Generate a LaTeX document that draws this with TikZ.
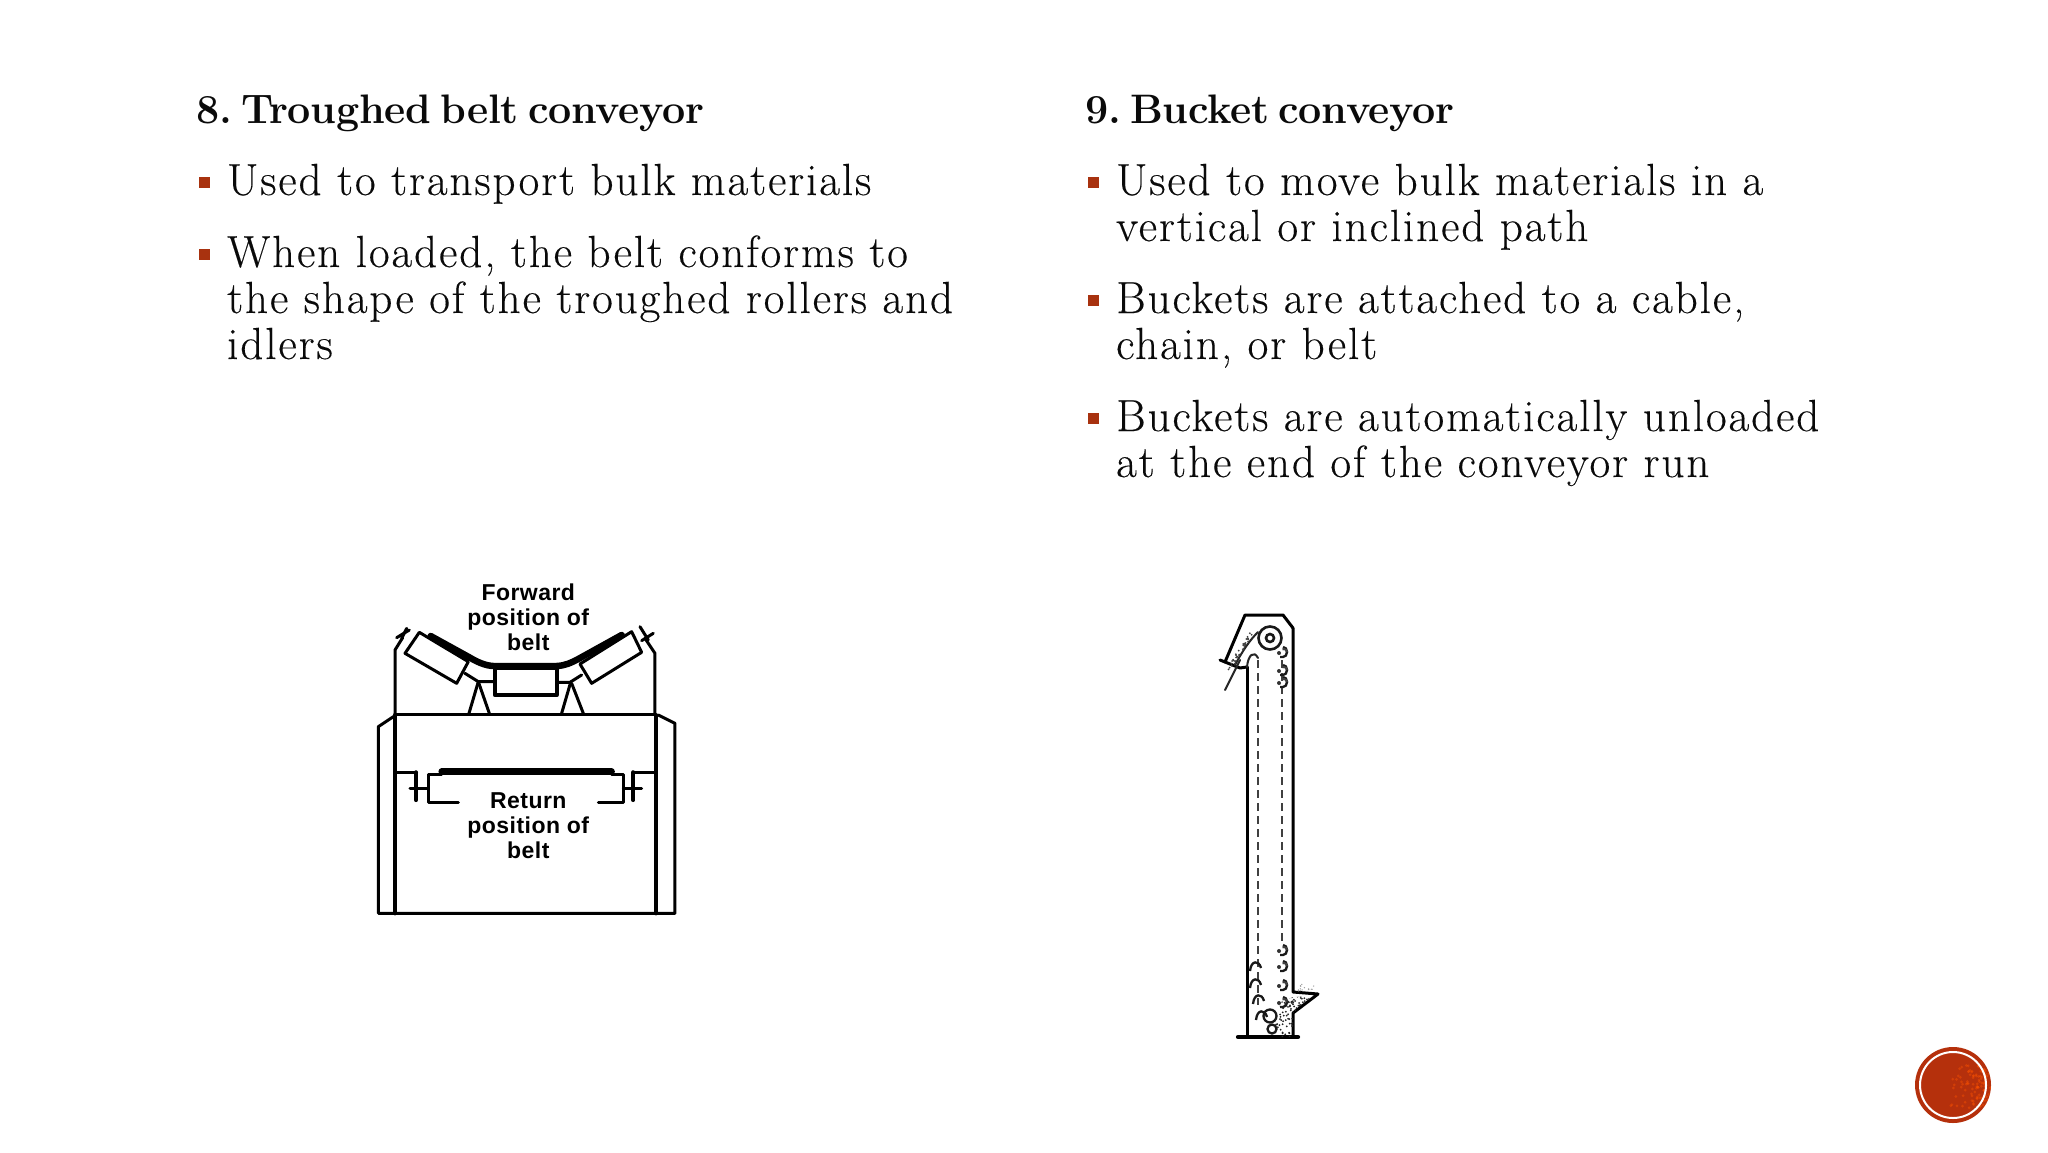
\documentclass[tikz,border=0pt]{standalone}
\usepackage{fontspec}
\newfontfamily\bodyf[LetterSpace=4.3,FakeBold=0.25]{Latin Modern Roman}
\newfontfamily\titlef[LetterSpace=-0.6,WordSpace=0.6]{Latin Modern Roman}
\newfontfamily\labf[LetterSpace=2]{Liberation Sans}
\definecolor{accent}{HTML}{A8320F}
\definecolor{disc}{HTML}{B5300C}
\definecolor{ink}{HTML}{0A0A0A}
\tikzset{
  bodytext/.style={anchor=base west,inner sep=0pt,font=\bodyf\fontsize{45}{46}\selectfont,text=ink},
  titletext/.style={anchor=base west,inner sep=0pt,font=\frenchspacing\titlef\fontsize{41.2}{46}\selectfont\bfseries,text=ink},
  bulletbox/.style={fill=accent,draw=none,minimum width=11pt,minimum height=11pt,inner sep=0pt},
  lab/.style={inner sep=0pt,anchor=base,font=\labf\bfseries\fontsize{23}{25}\selectfont,text=black},
  thin line/.style={line width=3pt,line join=round,line cap=round,draw=black},
  heavy/.style={line width=4.2pt,line join=round,line cap=round,draw=black},
  belt/.style={line width=6.5pt,line join=round,line cap=round,draw=black},
  fine/.style={line width=2pt,draw=black!85,line cap=round},
  dashy/.style={line width=1.5pt,draw=black!75,dash pattern=on 8pt off 5pt},
}
\begin{document}
\begin{tikzpicture}[x=1pt,y=-1pt]
\useasboundingbox (0,0) rectangle (2048,1152);
\fill[white] (0,0) rectangle (2048,1152);

% left column text
\node[titletext] (t8) at (196,123) {8. Troughed belt conveyor};
\node[bulletbox] (b1) at (204,182) {};
\node[bodytext] (l1) at (227,195) {Used to transport bulk materials};
\node[bulletbox] (b2) at (204,254) {};
\node[bodytext] (l2) at (227,267) {When loaded, the belt conforms to};
\node[bodytext] (l3) at (227,313) {the shape of the troughed rollers and};
\node[bodytext] (l4) at (227,359) {idlers};

% right column text
\node[titletext] (t9) at (1085,123) {9. Bucket conveyor};
\node[bulletbox] (b3) at (1093,182) {};
\node[bodytext] (r1) at (1116,195) {Used to move bulk materials in a};
\node[bodytext] (r2) at (1116,241) {vertical or inclined path};
\node[bulletbox] (b4) at (1093,300) {};
\node[bodytext] (r3) at (1116,313) {Buckets are attached to a cable,};
\node[bodytext] (r4) at (1116,359) {chain, or belt};
\node[bulletbox] (b5) at (1093,418) {};
\node[bodytext] (r5) at (1116,431) {Buckets are automatically unloaded};
\node[bodytext] (r6) at (1116,477) {at the end of the conveyor run};

% troughed belt idler, in coordinates of a 3x crop
\begin{scope}[shift={(360,570)},x=0.3333pt,y=-0.3333pt]
  \draw[thin line] (105,435) -- (105,240) -- (128,203);
  \draw[thin line] (885,435) -- (885,250) -- (855,205);
  \draw[thin line] (110,203) -- (148,180);
  \draw[thin line] (125,205) -- (140,175);
  \draw[thin line] (840,170) -- (865,210);
  \draw[thin line] (845,212) -- (880,190);
  \draw[thin line] (105,435) -- (885,435);
  \draw[thin line] (100,440) -- (55,470) -- (55,1030) -- (945,1030) -- (945,460) -- (895,435);
  \draw[heavy] (105,435) -- (105,1030);
  \draw[heavy] (887,435) -- (887,1030);
  % rollers
  \draw[thin line] (178,187) -- (325,275) -- (290,340) -- (135,250) -- cycle;
  \draw[thin line] (815,185) -- (845,247) -- (695,340) -- (660,282) -- cycle;
  \draw[heavy] (405,295) rectangle (590,375);
  % belt
  \draw[belt] (212,198) -- (330,263) .. controls (350,275) and (375,287) .. (400,288) -- (590,288) .. controls (615,287) and (635,278) .. (655,267) -- (785,195);
  % wedges and feet
  \draw[thin line] (315,310) -- (355,335) -- (400,335);
  \draw[thin line] (665,315) -- (630,337) -- (590,337);
  \draw[thin line] (355,335) -- (327,430);
  \draw[thin line] (355,335) -- (388,430);
  \draw[thin line] (632,337) -- (605,430);
  \draw[thin line] (635,340) -- (670,430);
  % return idler
  \draw[belt] (245,605) -- (755,605);
  \draw[thin line] (105,607) -- (170,607);
  \draw[heavy] (168,607) -- (168,690);
  \draw[thin line] (150,655) -- (205,655);
  \draw[thin line] (295,697) -- (207,697) -- (207,615) -- (245,615);
  \draw[thin line] (755,615) -- (790,615) -- (790,697) -- (715,697);
  \draw[thin line] (790,655) -- (845,655);
  \draw[heavy] (820,607) -- (820,690);
  \draw[thin line] (820,607) -- (885,607);
  \node[lab] (f1) at (505,90) {Forward};
  \node[lab] (f2) at (505,165) {position of};
  \node[lab] (f3) at (505,240) {belt};
  \node[lab] (g1) at (505,715) {Return};
  \node[lab] (g2) at (505,790) {position of};
  \node[lab] (g3) at (505,865) {belt};
\end{scope}

% bucket elevator
\draw[thin line] (1247,667) -- (1247,1037);
\draw[thin line] (1293,628) -- (1293,992) -- (1318,994) -- (1293,1013) -- (1293,1037);
\draw[thin line] (1293,628) -- (1283,615) -- (1245,615) -- (1225,662) -- (1220,660);
\draw[heavy] (1238,1037) -- (1298,1037);
\draw[thin line] (1225,662) -- (1240,668) -- (1247,667);
\draw[fine] (1225,690) -- (1240,660);
\draw[fine] (1235,665) .. controls (1243,650) and (1250,640) .. (1258,632);
\draw[fine] (1247,667) .. controls (1248,655) and (1254,650) .. (1258,658);
\draw[line width=2.6pt,black!90] (1270,638) circle (11.5);
\draw[line width=2.6pt,black!90] (1270,638) circle (4);
\draw[dashy] (1258,660) -- (1258,1005);
\draw[dashy] (1282,660) -- (1282,945);
% right-hand buckets
\foreach \yy in {652,670,682,950,966,985,1002}{
  \draw[line width=2.4pt,black!90] (1283,\yy-5) arc (-90:90:4 and 5) -- (1280,\yy+5);
  \draw[line width=2pt,black!75] (1287,\yy) arc (0:-120:3);
  \fill[black!80] (1279,\yy+1) circle (2);
}
% left-hand buckets
\foreach \yy/\xx in {968/1250,985/1250,1001/1253,1017/1256}{
  \draw[line width=2.3pt,black!90] (\xx,\yy+3) .. controls (\xx+1,\yy-8) and (\xx+9,\yy-8) .. (\xx+11,\yy);
}
\draw[line width=2.3pt,black!90] (1270,1016) circle (6.5);
\draw[line width=2.3pt,black!90] (1272,1029) circle (4.5);
% loose material
\pgfmathsetseed{8}
\begin{scope}
  \clip (1275,1037) -- (1275,1020) -- (1281,1002) -- (1293,997) -- (1312,996) -- (1293,1013) -- (1293,1037) -- cycle;
  \foreach \i in {1,...,170}{
    \fill[black!85] (1272+rnd*45,995+rnd*42) circle (1);
  }
\end{scope}
\foreach \i in {1,...,14}{
  \fill[black!40] (1298+rnd*16,984+rnd*9) circle (0.7);
}
\foreach \i in {1,...,36}{
  \pgfmathsetmacro{\tt}{rnd}
  \fill[black!75] (1226+\tt*24+rnd*4,668-\tt*36+rnd*4) circle (1);
}

% corner disc
\fill[disc] (1953,1085) circle (38);
\begin{scope}
  \clip (1953,1085) circle (38);
  \pgfmathsetseed{21}
  \foreach \i in {1,...,110}{
    \pgfmathsetmacro{\px}{1948+43*sqrt(rnd)}
    \pgfmathsetmacro{\py}{1064+rnd*46}
    \fill[orange!65!red,opacity=.4] (\px,\py) circle (1.5);
  }
\end{scope}
\draw[white,line width=2pt] (1953,1085) circle (33);
\end{tikzpicture}
\end{document}
